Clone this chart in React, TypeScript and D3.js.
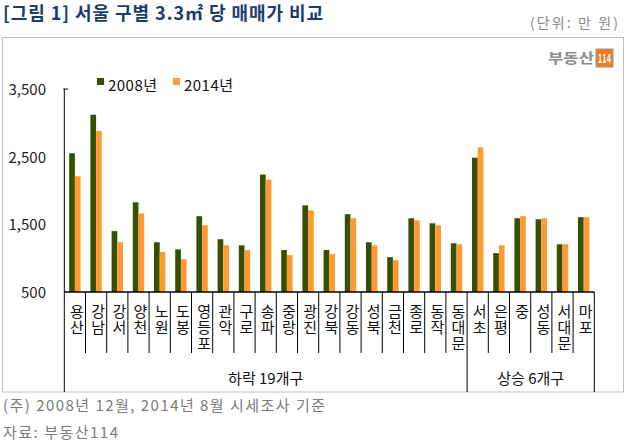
import React from "react";
import * as d3 from "d3";

const categories = ["용산","강남","강서","양천","노원","도봉","영등포","관악","구로","송파","중랑","광진","강북","강동","성북","금천","종로","동작","동대문","서초","은평","중","성동","서대문","마포"];
const values2008 = [2550,3120,1400,1825,1235,1130,1620,1280,1190,2235,1120,1780,1120,1650,1235,1015,1590,1515,1220,2485,1075,1590,1575,1205,1605];
const values2014 = [2210,2880,1235,1660,1090,985,1485,1190,1120,2160,1045,1705,1060,1590,1190,970,1560,1485,1205,2635,1190,1620,1590,1205,1605];
const seriesNames = ["2008년","2014년"];
const yTicks = [500,1500,2500,3500];
const groups = [{ label: "하락 19개구", start: 0, end: 19 }, { label: "상승 6개구", start: 19, end: 25 }];
const colors = ["#375000", "#ff9a33"];
const FONT = "'Noto Sans CJK KR', 'Noto Sans', sans-serif";

export default function App() {
  const left = 64.3, right = 594.3, top = 89, bottom = 292;
  const x = d3.scaleBand<number>().domain(d3.range(categories.length)).range([left, right]).paddingInner(0).paddingOuter(0);
  const xs = d3.scaleBand<number>().domain([0, 1]).range([0, x.bandwidth()]).paddingInner(0).paddingOuter(0.86);
  const y = d3.scaleLinear().domain([500, 3500]).range([bottom, top]);
  const series = [values2008, values2014];
  const fmt = d3.format(",");
  const sepBottom = 353;
  const frameBottom = 392;

  return (
    <svg width={628} height={446} style={{ position: "absolute", left: 0, top: 0, background: "#fff" }} fontFamily={FONT}>
      <text x={3} y={20} fontSize={18} fontWeight="bold" fill="#1c3b6e" textLength={320} lengthAdjust="spacing">[그림 1] 서울 구별 3.3㎡ 당 매매가 비교</text>
      <text x={530} y={28} fontSize={14} fill="#8a8a8a" textLength={88} lengthAdjust="spacing">(단위: 만 원)</text>
      <rect x={2.5} y={37.5} width={621} height={354.5} fill="none" stroke="#c0c0c0" strokeWidth={1} />
      {/* logo */}
      <text x={548} y={63} fontSize={14} fontWeight="bold" fill="#8c8c8c" textLength={46} lengthAdjust="spacingAndGlyphs">부동산</text>
      <rect x={596} y={49} width={17} height={18} fill="#f07c1e" stroke="#999" strokeWidth={1} />
      <text x={604.5} y={63} fontSize={12} fontWeight="bold" fill="#fff" textAnchor="middle" textLength={13} lengthAdjust="spacingAndGlyphs">114</text>
      {/* legend */}
      {seriesNames.map((n, i) => (
        <g key={n}>
          <rect x={97 + i * 76} y={78} width={7} height={7} fill={colors[i]} />
          <text x={108 + i * 76} y={91} fontSize={15} fill="#111" textLength={49} lengthAdjust="spacing">{n}</text>
        </g>
      ))}
      {/* y axis labels */}
      {yTicks.map((t) => (
        <text key={t} x={46} y={y(t) + 6} fontSize={15} fill="#222" textAnchor="end">{fmt(t)}</text>
      ))}
      {/* bars */}
      {categories.map((c, i) => (
        <g key={c}>
          {series.map((s, j) => (
            <rect key={j} x={(x(i) as number) + (xs(j) as number)} y={y(s[i])} width={xs.bandwidth()} height={bottom - y(s[i])} fill={colors[j]} />
          ))}
        </g>
      ))}
      {/* axes */}
      <line x1={left} x2={left} y1={top} y2={frameBottom} stroke="#000" strokeWidth={1} />
      <line x1={left - 1} x2={left + 4} y1={top} y2={top} stroke="#000" strokeWidth={1} />
      <line x1={left} x2={right} y1={bottom} y2={bottom} stroke="#000" strokeWidth={1.5} />
      {d3.range(1, categories.length).map((i) => (
        <line key={i} x1={x(i) as number} x2={x(i) as number} y1={bottom} y2={groups.some((g) => g.start === i) ? frameBottom : sepBottom} stroke="#000" strokeWidth={1} />
      ))}
      <line x1={right} x2={right} y1={bottom} y2={frameBottom} stroke="#000" strokeWidth={1} />
      {/* category labels, stacked vertically */}
      {categories.map((c, i) => (
        <text key={c} x={(x(i) as number) + x.bandwidth() / 2 + 2} y={304} fontSize={15} fill="#111"
          style={{ writingMode: "vertical-rl", textOrientation: "upright", letterSpacing: "1px" } as any}>{c}</text>
      ))}
      {/* group labels */}
      {groups.map((g) => (
        <text key={g.label} x={((x(g.start) as number) + (g.end >= categories.length ? right : (x(g.end) as number))) / 2} y={384} fontSize={15} fill="#111" textAnchor="middle">{g.label}</text>
      ))}
      {/* footnotes */}
      <text x={3} y={411} fontSize={15} fill="#7a7a7a" textLength={322} lengthAdjust="spacing">(주) 2008년 12월, 2014년 8월 시세조사 기준</text>
      <text x={3} y={438} fontSize={15} fill="#7a7a7a" textLength={115} lengthAdjust="spacing">자료: 부동산114</text>
    </svg>
  );
}
